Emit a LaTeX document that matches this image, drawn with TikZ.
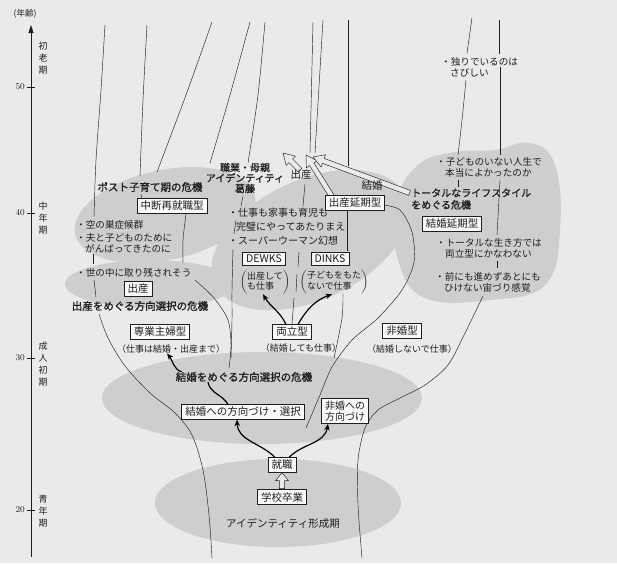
\documentclass[tikz,border=0pt]{standalone}
\usepackage{fontspec}
\newfontfamily\jp{Noto Sans CJK JP}
\newfontfamily\jpb[FakeBold=1.2]{Noto Sans CJK JP}
\usetikzlibrary{arrows.meta}
\definecolor{bg}{RGB}{234,234,234}
\definecolor{reg}{RGB}{206,206,206}
\definecolor{ink}{RGB}{30,30,30}
\newcommand{\szBox}{\jp\fontsize{10.5}{12}\selectfont}
\newcommand{\szLab}{\jpb\fontsize{10.5}{11}\selectfont}
\newcommand{\szBul}{\jp\fontsize{9.6}{11}\selectfont}
\newcommand{\szPar}{\jp\fontsize{9}{10}\selectfont}
\newcommand{\hollowarr}[5]{\begin{scope}[shift={#1},rotate=#2]\draw[ln,fill=bg] (0,0) -- (#4,-#5) -- (#4,-2.6) -- (#3,-2.6) -- (#3,2.6) -- (#4,2.6) -- (#4,#5) -- cycle;\end{scope}}
\begin{document}
\begin{tikzpicture}[x=1pt,y=-1pt,
  every node/.style={font=\szLab, text=ink, inner sep=0pt},
  bx/.style={draw=ink, fill=white!70!bg, inner xsep=3.5pt, inner ysep=2.5pt, line width=0.6pt, font=\szBox},
  bul/.style={align=left, anchor=west, font=\szBul},
  par/.style={font=\szPar},
  ln/.style={draw=ink, line width=0.45pt},
  thk/.style={draw=black, line width=1.2pt},
  blk/.style={thk, -{Stealth[length=6.5pt,width=5.5pt]}},
  ]
\fill[bg] (0,0) rectangle (617,563);
\useasboundingbox (0,0) rectangle (617,563);

% gray regions
\fill[reg] (278,503) ellipse [x radius=123pt, y radius=44pt];
\fill[reg] (262,398) ellipse [x radius=160pt, y radius=46pt];
\fill[reg, rotate around={12:(165,215)}] (165,215) ellipse [x radius=92pt, y radius=45pt];
\fill[reg] (150,284) ellipse [x radius=85pt, y radius=24pt];
\fill[reg, rotate around={25:(310,240)}] (310,240) ellipse [x radius=105pt, y radius=60pt];
\fill[reg] plot[smooth cycle, tension=0.7] coordinates {(395,205) (418,165) (455,152) (495,150) (530,143) (555,165) (560,230) (545,285) (490,300) (425,298) (398,260)};

% axis
\coordinate (axb) at (31,557);
\coordinate (axt) at (31,25);
\draw[ln, -{Triangle[length=8pt,width=5pt]}] (axb) -- (axt);
\node[font=\jp\fontsize{8.5}{10}\selectfont] (nenrei) at (25,14) {(年齢)};
\foreach \v/\yy in {50/87,40/213,30/358,20/510}{
  \draw[ln] (27,\yy) -- (35,\yy);
  \node[font=\rmfamily\fontsize{9}{10}\selectfont, anchor=east] (t\v) at (25,\yy) {\v};
}
\node[font=\jp\fontsize{9}{12}\selectfont, align=center] (p1) at (43,58) {初\\老\\期};
\node[font=\jp\fontsize{9}{12}\selectfont, align=center] (p2) at (43,218) {中\\年\\期};
\node[font=\jp\fontsize{9}{12}\selectfont, align=center] (p3) at (43,364) {成\\人\\初\\期};
\node[font=\jp\fontsize{9}{12}\selectfont, align=center] (p4) at (43,511) {青\\年\\期};

% life-course lines
\draw[ln] plot[smooth] coordinates {(105,25) (101,90) (96,160) (94,217)};
\draw[ln] (93,254) -- (93,264);
\draw[ln] (94,280) -- (96,297);
\draw[ln] plot[smooth] coordinates {(99,314) (108,338) (125,366) (150,393) (175,413) (192,435) (203,470) (209,515) (212,558)};
\draw[ln] plot[smooth] coordinates {(147,25) (143,100) (140,176)};
\draw[ln] (141,194) -- (142,199);
\draw[ln] plot[smooth] coordinates {(186,214) (183,240) (183,263)};
\draw[ln] plot[smooth] coordinates {(195,280) (214,298) (228,320) (231,345) (229,368)};
\draw[ln] plot[smooth] coordinates {(212,22) (186,95) (157,172)};
\draw[ln] plot[smooth] coordinates {(250,22) (230,95) (210,163)};
\draw[ln] plot[smooth] coordinates {(265,22) (258,95) (248,163)};
\draw[ln] (313,22) -- (310,153);
\draw[ln] (323,20) -- (315,153);
\draw[ln] (348,20) -- (348,166);
\draw[ln] (472,18) -- (467,53);
\draw[ln] plot[smooth] coordinates {(466,80) (462,120) (458,155)};
\draw[ln] (458,180) -- (458,187);
\draw[ln] (499,20) -- (499,54);
\draw[ln] (500,67) -- (500,155);
\draw[ln] (500,180) -- (497,235);
\draw[ln] (497,261) -- (497,268);
\draw[ln] plot[smooth] coordinates {(483,296) (465,333) (448,365) (425,385) (400,398) (378,410) (365,428) (358,460) (358,505) (362,558)};
\draw[ln] (243,196) -- (241,206);
\draw[ln] (236,220) -- (234,234);
\draw[ln] plot[smooth] coordinates {(233,249) (232,290) (232,320) (231,358)};
\draw[ln] (305,184) -- (303,206);
\draw[ln] (299,252) -- (298,267);
\draw[ln] (297,274) -- (296,292);
\draw[ln] (294,298) -- (292,324);
\draw[ln] (347,210) -- (347,251);
\draw[ln] plot[smooth] coordinates {(343,293) (342,318) (334,358)};
\draw[ln] plot[smooth] coordinates {(383,205) (400,210) (412,232) (414,262) (402,290) (378,318) (352,340) (332,367) (320,395) (306,428)};

% hollow arrows (upper)
\hollowarr{(283,153)}{-45}{24}{11}{6.5}
\hollowarr{(306,155)}{-58}{49}{11}{6.5}
\hollowarr{(313,157)}{-20.4}{103}{11}{6.5}

% upper-left texts
\node (post) at (150,187) {ポスト子育て期の危機};
\node[bx] (chudan) at (172,206) {中断再就職型};
\node[bul] (b1) at (76,225) {・空の巣症候群};
\node[bul] (b2) at (76,243.5) {・夫と子どものために\\\hspace*{9pt}がんばってきたのに};
\node[bul] (b3) at (76,273) {・世の中に取り残されそう};
\node[bx] (shussan) at (138,289) {出産};
\node (scrisis) at (140,306) {出産をめぐる方向選択の危機};

% centre texts
\node[align=center, font=\jpb\fontsize{10}{10.5}\selectfont] (kattou) at (245,178) {職業・母親\\アイデンティティ\\葛藤};
\node[font=\jp\fontsize{10.5}{11}\selectfont] (lshussan) at (301,175) {出産};
\node[font=\jp\fontsize{10.5}{11}\selectfont] (lkekkon) at (372,186) {結婚};
\node[bx] (enki) at (355,203) {出産延期型};
\node[bul, font=\jp\fontsize{10}{11}\selectfont] (c1) at (228,213) {・仕事も家事も育児も};
\node[bul, font=\jp\fontsize{10}{11}\selectfont] (c2) at (236,227) {完璧にやってあたりまえ};
\node[bul, font=\jp\fontsize{10}{11}\selectfont] (c3) at (228,241) {・スーパーウーマン幻想};
\node[bx] (dewks) at (264,259) {DEWKS};
\node[bx] (dinks) at (330,259) {DINKS};
\node[par] (dewksp) at (265,282) {$\left(\begin{tabular}{@{}l@{}}出産して\\も仕事\end{tabular}\right)$};
\node[par] (dinksp) at (334,282) {$\left(\begin{tabular}{@{}l@{}}子どもをもた\\ないで仕事\end{tabular}\right)$};

% right texts
\node[bul] (r1) at (441,67.5) {・独りでいるのは\\\hspace*{9pt}さびしい};
\node[bul] (r2) at (436,167.5) {・子どものいない人生で\\\hspace*{9pt}本当によかったのか};
\node[bul, font=\jpb\fontsize{10}{12}\selectfont] (r3) at (411,199) {トータルなライフスタイル\\をめぐる危機};
\node[bx] (kenki) at (452,224) {結婚延期型};
\node[bul] (r4) at (436,248) {・トータルな生き方では\\\hspace*{9pt}両立型にかなわない};
\node[bul] (r5) at (435,282.5) {・前にも進めずあとにも\\\hspace*{9pt}ひけない宙づり感覚};

% lower texts
\node[bx] (sengyo) at (160,332) {専業主婦型};
\node[par] (sengyop) at (171,349) {（仕事は結婚・出産まで）};
\node[bx] (ryo) at (292,332) {両立型};
\node[par] (ryop) at (301,348) {（結婚しても仕事）};
\node[bx] (hikon) at (402,331) {非婚型};
\node[par] (hikonp) at (412,349) {（結婚しないで仕事）};
\node (kcrisis) at (244,377) {結婚をめぐる方向選択の危機};
\node[bx] (kk) at (243,412) {結婚への方向づけ・選択};
\node[bx, align=center, font=\jp\fontsize{10}{11}\selectfont] (hk) at (345,411) {非婚への\\方向づけ};
\node[bx] (shu) at (282,465) {就職};
\node[bx] (gakko) at (282,497) {学校卒業};
\node[font=\jp\fontsize{10.5}{11}\selectfont] (iden) at (283,523) {アイデンティティ形成期};

% connectors
\draw[blk] ([xshift=-6pt]ryo.north) to[out=115,in=-60] ([xshift=-2pt]dewksp.south);
\draw[blk] ([xshift=6pt]ryo.north) to[out=60,in=200] ([xshift=-2pt]dinksp.south);
\draw[blk] ([xshift=6pt]kcrisis.north west) to[out=160,in=-50] ([xshift=-4pt]sengyop.south);
\draw[thk] ([xshift=-36pt]kcrisis.south) to[out=-80,in=120] ([xshift=-15pt]kk.north);
\draw[blk] ([xshift=-7pt]shu.north) to[out=135,in=-88] ([xshift=-6pt]kk.south);
\draw[blk] ([xshift=7pt]shu.north) to[out=45,in=-100] ([xshift=-17pt]hk.south);
\hollowarr{(shu.south)}{-90}{16}{8}{6.5}
\end{tikzpicture}
\end{document}
